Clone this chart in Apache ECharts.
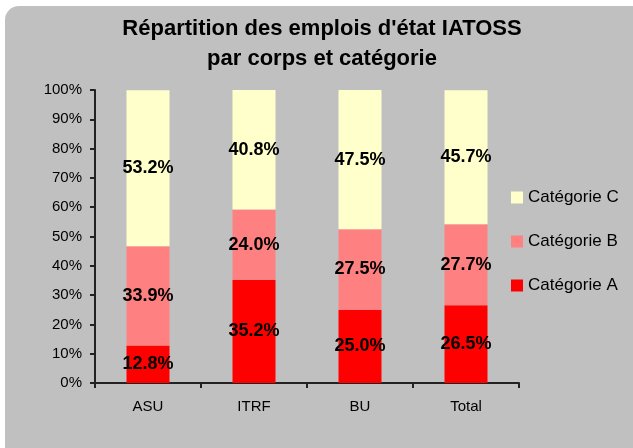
<!DOCTYPE html>
<html>
<head>
  <meta charset="utf-8">
  <title>Répartition des emplois d'état IATOSS</title>
  <script src="https://cdn.jsdelivr.net/npm/echarts@6/dist/echarts.min.js"></script>
  <style>
    html, body { margin: 0; padding: 0; background: #ffffff; }
    #main { width: 633px; height: 448px; }
  </style>
</head>
<body>
<div id="main"></div>
<script type="text/javascript">
var categories = ['ASU', 'ITRF', 'BU', 'Total'];
var catA = [12.8, 35.2, 25.0, 26.5];
var catB = [33.9, 24.0, 27.5, 27.7];
var catC = [53.2, 40.8, 47.5, 45.7];
var yTicks = [0, 10, 20, 30, 40, 50, 60, 70, 80, 90, 100];

var myChart = echarts.init(document.getElementById('main'));

var font = '"Liberation Sans", Arial, sans-serif';

function barSeries(name, values, color) {
  return {
    name: name,
    type: 'bar',
    stack: 'total',
    barWidth: 43,
    itemStyle: { color: color },
    label: {
      show: true,
      position: 'inside',
      color: '#000000',
      fontFamily: font,
      fontWeight: 'bold',
      fontSize: 18,
      formatter: function (p) {
        return p.value.toFixed(1) + '%';
      }
    },
    emphasis: { disabled: true },
    data: values
  };
}

var option = {
  backgroundColor: '#ffffff',
  animation: false,
  graphic: [{
    type: 'rect',
    z: -10,
    shape: { x: 5, y: 6, width: 660, height: 470, r: 14 },
    style: { fill: '#c0c0c0' }
  }],
  title: {
    text: "Répartition des emplois d'état IATOSS\npar corps et catégorie",
    left: 322,
    top: 14,
    padding: 0,
    textAlign: 'center',
    textStyle: {
      fontFamily: font,
      fontWeight: 'bold',
      fontSize: 22,
      lineHeight: 30,
      color: '#000000'
    }
  },
  legend: {
    orient: 'vertical',
    left: 511,
    top: 189,
    padding: 0,
    itemWidth: 12,
    itemHeight: 12,
    itemGap: 27,
    icon: 'rect',
    selectedMode: false,
    textStyle: {
      fontFamily: font,
      fontSize: 17,
      color: '#000000'
    },
    data: ['Catégorie C', 'Catégorie B', 'Catégorie A']
  },
  grid: {
    left: 95,
    right: 114,
    top: 90,
    bottom: 65,
    containLabel: false
  },
  xAxis: {
    type: 'category',
    data: categories,
    axisLine: { lineStyle: { color: '#222222', width: 2 } },
    axisTick: { show: true, length: 5, lineStyle: { color: '#222222', width: 2 } },
    axisLabel: {
      margin: 16,
      fontFamily: font,
      fontSize: 15,
      color: '#000000'
    }
  },
  yAxis: {
    type: 'value',
    min: yTicks[0],
    max: yTicks[yTicks.length - 1],
    interval: 10,
    splitLine: { show: false },
    axisLine: { show: true, lineStyle: { color: '#222222', width: 2 } },
    axisTick: { show: true, length: 5, lineStyle: { color: '#222222', width: 2 } },
    axisLabel: {
      margin: 13,
      fontFamily: font,
      fontSize: 15,
      color: '#000000',
      formatter: '{value}%'
    }
  },
  series: [
    barSeries('Catégorie A', catA, '#ff0000'),
    barSeries('Catégorie B', catB, '#ff8080'),
    barSeries('Catégorie C', catC, '#ffffcc')
  ]
};

myChart.setOption(option);
</script>
</body>
</html>
